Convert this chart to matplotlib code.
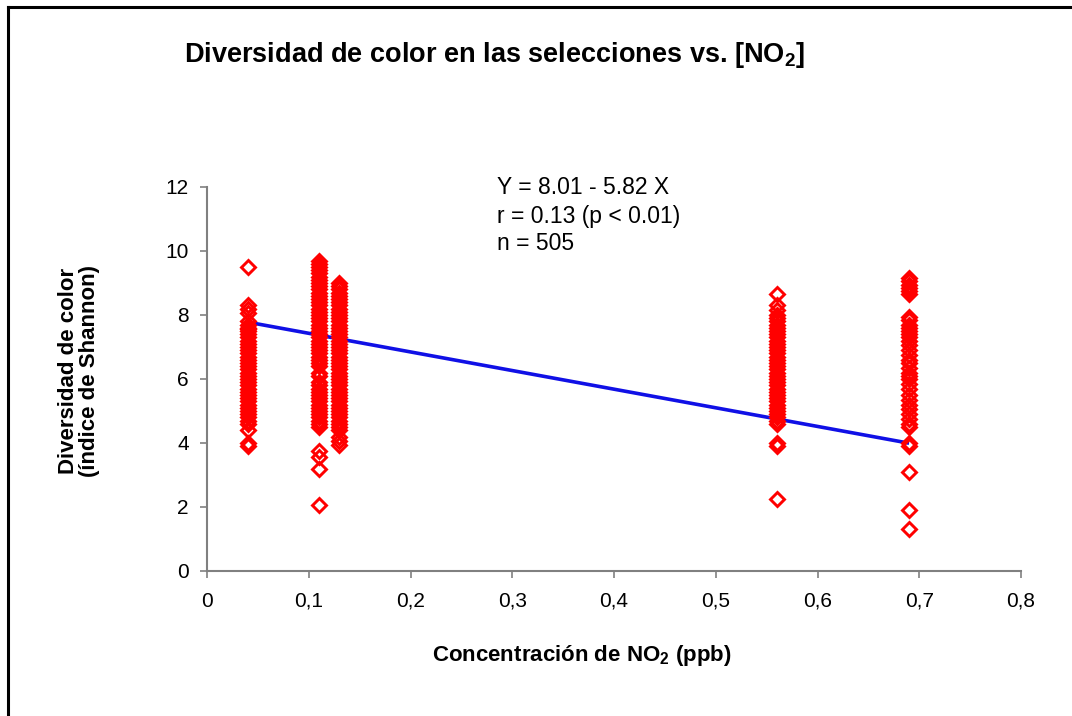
import matplotlib
matplotlib.use("Agg")
import matplotlib.pyplot as plt
from matplotlib.lines import Line2D

plt.rcParams['font.family'] = ['Liberation Sans', 'DejaVu Sans']
plt.rcParams['mathtext.fontset'] = 'custom'
plt.rcParams['mathtext.rm'] = 'Liberation Sans'
plt.rcParams['mathtext.bf'] = 'Liberation Sans:bold'

# ---- data ----
x_groups = [0.04, 0.11, 0.13, 0.56, 0.69]

y_004 = [9.5, 8.3, 8.2, 8.05, 7.8, 7.7, 7.6, 7.55, 7.5, 7.4, 7.3, 7.2, 7.1, 7.0,
         6.9, 6.8, 6.7, 6.6, 6.5, 6.4, 6.3, 6.2, 6.1, 6.0, 5.9, 5.8, 5.7, 5.6,
         5.5, 5.4, 5.3, 5.2, 5.1, 5.0, 4.9, 4.8, 4.7, 4.6, 4.4, 4.0, 3.9]
y_011 = [9.7, 9.6, 9.5, 9.4, 9.3, 9.2, 9.1, 9.0, 8.9, 8.8, 8.7, 8.6, 8.5, 8.4,
         8.3, 8.2, 8.1, 8.0, 7.9, 7.8, 7.7, 7.6, 7.5, 7.4, 7.3, 7.2, 7.1, 7.0,
         6.9, 6.8, 6.7, 6.6, 6.5, 6.4, 6.2, 6.1, 5.9, 5.8, 5.7, 5.6, 5.5, 5.4,
         5.3, 5.2, 5.1, 5.0, 4.9, 4.8, 4.7, 4.6, 4.5, 3.75, 3.55, 3.2, 2.05]
y_013 = [9.0, 8.9, 8.8, 8.7, 8.6, 8.5, 8.4, 8.3, 8.2, 8.1, 8.0, 7.9, 7.8, 7.7,
         7.6, 7.5, 7.4, 7.3, 7.2, 7.1, 7.0, 6.9, 6.8, 6.7, 6.6, 6.5, 6.4, 6.3,
         6.2, 6.1, 6.0, 5.9, 5.8, 5.7, 5.6, 5.5, 5.4, 5.3, 5.2, 5.1, 5.0, 4.9,
         4.8, 4.7, 4.6, 4.5, 4.4, 4.2, 4.05, 3.95]
y_056 = [8.65, 8.3, 8.15, 8.0, 7.9, 7.8, 7.7, 7.6, 7.5, 7.4, 7.3, 7.2, 7.1, 7.0,
         6.9, 6.8, 6.7, 6.6, 6.5, 6.4, 6.3, 6.2, 6.1, 6.0, 5.9, 5.8, 5.7, 5.6,
         5.5, 5.4, 5.3, 5.2, 5.1, 5.0, 4.9, 4.8, 4.7, 4.6, 4.0, 3.9, 2.25]
y_069 = [9.15, 9.05, 8.95, 8.85, 8.75, 8.65, 7.95, 7.85, 7.7, 7.6, 7.5, 7.4,
         7.3, 7.2, 7.05, 6.9, 6.75, 6.6, 6.5, 6.35, 6.2, 6.1, 6.0, 5.85, 5.7,
         5.5, 5.35, 5.2, 5.05, 4.9, 4.75, 4.6, 4.5, 4.0, 3.9, 3.1, 1.9, 1.3]
y_groups = [y_004, y_011, y_013, y_056, y_069]

intercept = 8.01
slope = -5.82
fit_x = [0.04, 0.69]

x_ticks = [0, 0.1, 0.2, 0.3, 0.4, 0.5, 0.6, 0.7, 0.8]
x_tick_labels = ["0", "0,1", "0,2", "0,3", "0,4", "0,5", "0,6", "0,7", "0,8"]
y_ticks = [0, 2, 4, 6, 8, 10, 12]

title = "Diversidad de color en las selecciones vs. [NO$_\\mathbf{2}$]"
xlabel = "Concentración de NO$_\\mathbf{2}$ (ppb)"
ylabel = "Diversidad de color\n(índice de Shannon)"
stats = ["Y = 8.01 - 5.82 X", "r = 0.13 (p < 0.01)", "n = 505"]

# ---- figure ----
fig = plt.figure(figsize=(10.72, 7.16), dpi=100)
ax = fig.add_axes([207/1072, 1-571/716, (1021-207)/1072, (571-187)/716])

fit_y = [intercept + slope * v for v in fit_x]
ax.plot(fit_x, fit_y, color='#1010e6', lw=2.6, zorder=2, solid_capstyle='butt')

for xv, ys in zip(x_groups, y_groups):
    ax.plot([xv] * len(ys), ys, linestyle='none', marker='D', ms=7.0,
            mfc='none', mec='#ff0000', mew=2.1, zorder=3)

ax.set_xlim(0, 0.8)
ax.set_ylim(0, 12)
ax.set_xticks(x_ticks)
ax.set_xticklabels(x_tick_labels)
ax.set_yticks(y_ticks)
for s in ['top', 'right']:
    ax.spines[s].set_visible(False)
for s in ['left', 'bottom']:
    ax.spines[s].set_color('#808080')
    ax.spines[s].set_linewidth(1.5)
ax.tick_params(axis='both', direction='out', length=5, width=1.2, color='#808080',
               labelsize=15, labelcolor='black')
ax.tick_params(axis='x', pad=10)
ax.tick_params(axis='y', pad=8)
ax.patch.set_alpha(0)

fig.text(495/1072, 1-55/716, title, ha='center', va='center', fontsize=19.5,
         fontweight='bold')
fig.text(582/1072, 1-656/716, xlabel, ha='center', va='center', fontsize=16,
         fontweight='bold')
fig.text(79/1072, 1-371/716, ylabel, ha='center', va='center', fontsize=16,
         fontweight='bold', rotation=90, linespacing=0.95)

for i, s in enumerate(stats):
    fig.text(497/1072, 1-(188 + 28*i)/716, s, ha='left', va='center', fontsize=16.5)

# border (top and left)
fig.add_artist(Line2D([8/1072, 8/1072], [0, 1-7/716], transform=fig.transFigure,
                      color='black', lw=2.2))
fig.add_artist(Line2D([8/1072, 1], [1-7/716, 1-7/716], transform=fig.transFigure,
                      color='black', lw=2.2))

fig.savefig("out.png", dpi=100)
